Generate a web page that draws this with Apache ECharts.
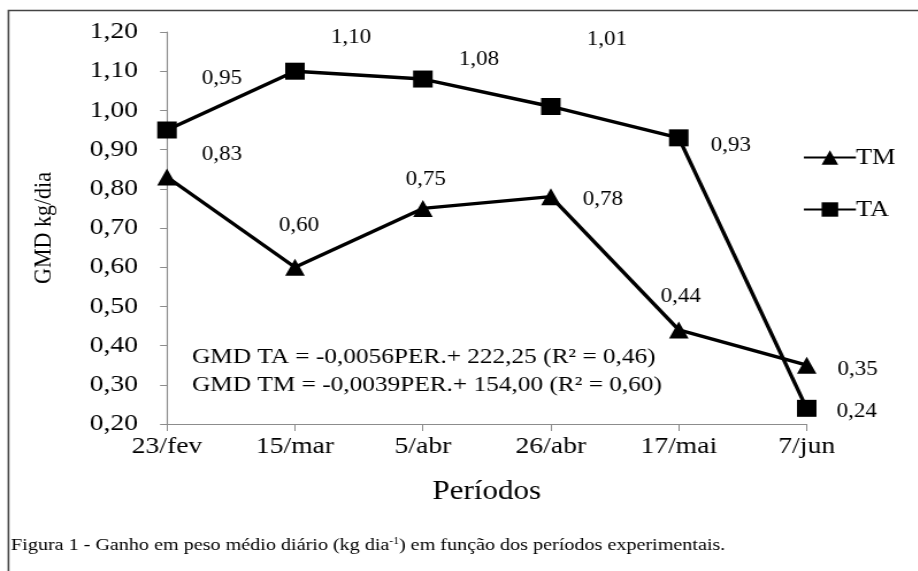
<!DOCTYPE html>
<html>
<head>
<meta charset="utf-8">
<script src="https://cdn.jsdelivr.net/npm/echarts@6/dist/echarts.min.js"></script>
<style>
html,body{margin:0;padding:0;background:#fff;overflow:hidden}
#wrap{width:918px;height:571px;overflow:hidden}
#c{width:798px;height:571px;transform:scaleX(1.15);transform-origin:0 0}
</style>
</head>
<body>
<div id="wrap"><div id="c"></div></div>
<script>
var categories = ['23/fev', '15/mar', '5/abr', '26/abr', '17/mai', '7/jun'];
var seriesTM = [0.83, 0.60, 0.75, 0.78, 0.44, 0.35];
var seriesTA = [0.95, 1.10, 1.08, 1.01, 0.93, 0.24];
var yTicks = { min: 0.2, max: 1.2, interval: 0.1 };

var SX = 1.15; // horizontal stretch of the original figure
var FONT = '"Liberation Serif", "DejaVu Serif", serif';
function fmt(v) { return v.toFixed(2).replace('.', ','); }
function X(px) { return px / SX; }

// label placement (style only, in screen pixels)
var offTA = [[55, -51], [56, -33], [56, -19], [56, -67], [52, 8], [50, 3]];
var offTM = [[55, -22], [4, -41], [3, -29], [52, 3], [2, -33], [51, 5]];

function build(vals, offs) {
  return vals.map(function (v, i) {
    return {
      value: v,
      label: { show: true, position: 'inside', offset: [X(offs[i][0]), offs[i][1]], formatter: function (p) { return fmt(p.value); } }
    };
  });
}

var chart = echarts.init(document.getElementById('c'));
chart.setOption({
  animation: false,
  backgroundColor: '#fff',
  grid: { left: X(167), right: X(111), top: 32, bottom: 147, containLabel: false },
  xAxis: {
    type: 'category', data: categories, boundaryGap: false,
    axisLine: { lineStyle: { color: '#8c8c8c', width: 1.2 } },
    axisTick: { show: true, length: 7, interval: 0, lineStyle: { color: '#8c8c8c' } },
    axisLabel: { color: '#000', fontFamily: FONT, fontSize: 24, margin: 11, interval: 0 },
    name: 'Períodos', nameLocation: 'middle', nameGap: 54,
    nameTextStyle: { color: '#000', fontFamily: FONT, fontSize: 27 }
  },
  yAxis: {
    type: 'value', min: yTicks.min, max: yTicks.max, interval: yTicks.interval,
    axisLine: { show: true, lineStyle: { color: '#8c8c8c', width: 1.2 } },
    axisTick: { show: true, length: 6, inside: false, lineStyle: { color: '#8c8c8c' } },
    splitLine: { show: false },
    axisLabel: { color: '#000', fontFamily: FONT, fontSize: 24, margin: X(29), formatter: fmt },
    name: 'GMD kg/dia', nameLocation: 'middle', nameGap: 96, nameRotate: 90,
    nameTextStyle: { color: '#000', fontFamily: FONT, fontSize: 22 }
  },
  legend: {
    orient: 'vertical', left: X(797), top: 141, itemGap: 29,
    itemWidth: X(52), itemHeight: 18,
    textStyle: { color: '#000', fontFamily: FONT, fontSize: 23, padding: [0, 0, 0, -5] },
    data: ['TM', 'TA']
  },
  series: [
    {
      name: 'TM', type: 'line', data: build(seriesTM, offTM),
      symbol: 'triangle', symbolSize: 17,
      lineStyle: { color: '#000', width: 3.4 }, itemStyle: { color: '#000' },
      label: { color: '#000', fontFamily: FONT, fontSize: 20 }
    },
    {
      name: 'TA', type: 'line', data: build(seriesTA, offTA),
      symbol: 'rect', symbolSize: 17,
      lineStyle: { color: '#000', width: 3.4 }, itemStyle: { color: '#000' },
      label: { color: '#000', fontFamily: FONT, fontSize: 20 }
    }
  ],
  graphic: [
    { type: 'rect', shape: { x: X(8.5), y: 10.5, width: 1000, height: 1000 }, style: { fill: 'none', stroke: '#444', lineWidth: 1.6 }, silent: true },
    { type: 'text', left: X(192), top: 346, style: { text: 'GMD TA = -0,0056PER.+ 222,25 (R² = 0,46)', fill: '#000', font: '22px ' + FONT } },
    { type: 'text', left: X(192), top: 374, style: { text: 'GMD TM = -0,0039PER.+ 154,00 (R² = 0,60)', fill: '#000', font: '22px ' + FONT } },
    { type: 'text', left: X(11), top: 536, style: {
        text: '{n|Figura 1 - Ganho em peso médio diário (kg dia}{s|-1}{n|) em função dos períodos experimentais.}',
        rich: {
          n: { fontFamily: FONT, fontSize: 17.5, fill: '#000', color: '#000' },
          s: { fontFamily: FONT, fontSize: 10, fill: '#000', color: '#000', padding: [0, 0, 8, 0] }
        }
    } }
  ]
});
</script>
</body>
</html>
